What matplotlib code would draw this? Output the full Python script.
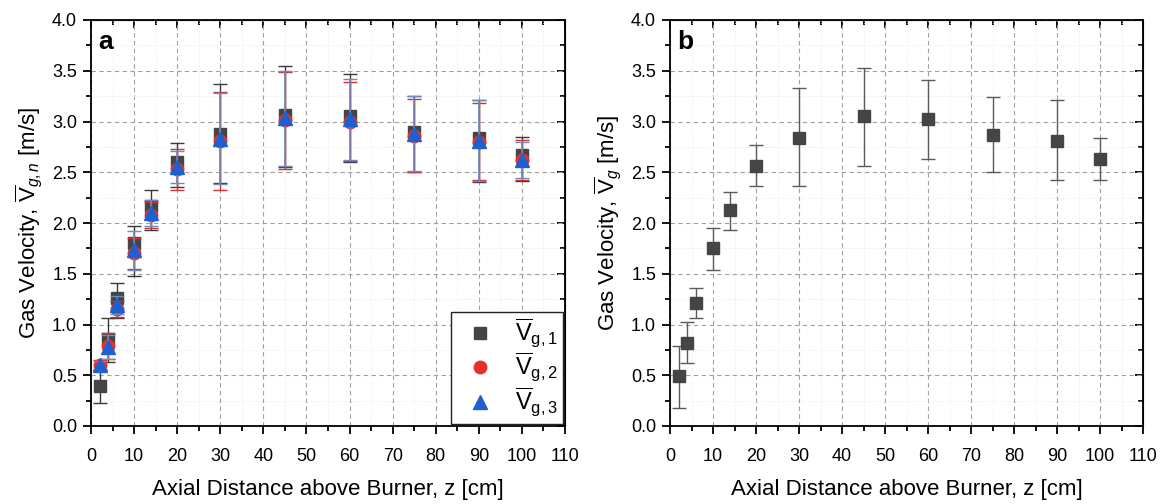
import matplotlib.pyplot as plt
from matplotlib.ticker import MultipleLocator
from matplotlib.lines import Line2D

plt.rcParams['font.family'] = ['Liberation Sans', 'DejaVu Sans']
plt.rcParams['mathtext.fontset'] = 'custom'
plt.rcParams['mathtext.rm'] = 'Liberation Sans'
plt.rcParams['mathtext.it'] = 'Liberation Sans:italic'

# axial positions [cm]
z = [2, 4, 6, 10, 14, 20, 30, 45, 60, 75, 90, 100]

# panel a: three repeated runs
v1 = [0.39, 0.86, 1.26, 1.80, 2.17, 2.60, 2.88, 3.06, 3.05, 2.90, 2.84, 2.67]
v1_lo = [0.16, 0.23, 0.20, 0.32, 0.24, 0.25, 0.49, 0.51, 0.45, 0.40, 0.44, 0.26]
v1_hi = [0.16, 0.20, 0.15, 0.17, 0.16, 0.19, 0.49, 0.49, 0.42, 0.35, 0.37, 0.18]
v2 = [0.60, 0.79, 1.15, 1.70, 2.08, 2.53, 2.81, 3.01, 3.00, 2.86, 2.80, 2.62]
v2_err = [0.05, 0.13, 0.08, 0.15, 0.13, 0.20, 0.48, 0.48, 0.39, 0.36, 0.38, 0.20]
v3 = [0.60, 0.78, 1.19, 1.73, 2.10, 2.55, 2.83, 3.03, 3.02, 2.88, 2.81, 2.62]
v3_err = [0.04, 0.12, 0.09, 0.19, 0.13, 0.16, 0.45, 0.47, 0.40, 0.37, 0.40, 0.18]
labels_a = [r'$\overline{\mathrm{V}}_{\mathrm{g,1}}$',
            r'$\overline{\mathrm{V}}_{\mathrm{g,2}}$',
            r'$\overline{\mathrm{V}}_{\mathrm{g,3}}$']

# panel b: averaged velocity
vb = [0.49, 0.82, 1.21, 1.75, 2.13, 2.56, 2.84, 3.05, 3.02, 2.87, 2.81, 2.63]
vb_lo = [0.31, 0.20, 0.15, 0.21, 0.20, 0.20, 0.48, 0.49, 0.39, 0.37, 0.39, 0.21]
vb_hi = [0.30, 0.20, 0.15, 0.20, 0.18, 0.21, 0.49, 0.48, 0.39, 0.37, 0.40, 0.21]

fig = plt.figure(figsize=(11.66, 5.04), dpi=100)
ax_a = fig.add_axes([91 / 1166, 78 / 504, 474 / 1166, 406 / 504])
ax_b = fig.add_axes([670 / 1166, 78 / 504, 473 / 1166, 406 / 504])


def style_axes(ax, ylabel, tag):
    ax.set_xlim(0, 110)
    ax.set_ylim(0, 4.0)
    ax.xaxis.set_major_locator(MultipleLocator(10))
    ax.xaxis.set_minor_locator(MultipleLocator(5))
    ax.yaxis.set_major_locator(MultipleLocator(0.5))
    ax.yaxis.set_minor_locator(MultipleLocator(0.25))
    ax.grid(True, which='major', color='#a0a0a0', linestyle=(0, (4, 3)), linewidth=0.8)
    ax.grid(True, which='minor', color='#e2e2e2', linestyle=(0, (1, 2)), linewidth=0.6)
    ax.set_axisbelow(True)
    ax.tick_params(which='both', direction='out', labelsize=13, width=1.3,
                   top=False, right=False)
    ax.tick_params(axis='x', which='major', length=6, pad=10)
    ax.tick_params(axis='y', which='major', length=6, pad=4)
    ax.tick_params(which='minor', length=3.5)
    for s in ax.spines.values():
        s.set_linewidth(1.3)
    # mirrored inward ticks on top and right
    ax2 = ax.secondary_xaxis('top')
    ax2.xaxis.set_major_locator(MultipleLocator(10))
    ax2.xaxis.set_minor_locator(MultipleLocator(5))
    ax2.tick_params(which='both', direction='in', labeltop=False, width=1.3)
    ax2.tick_params(which='major', length=6)
    ax2.tick_params(which='minor', length=3.5)
    ay2 = ax.secondary_yaxis('right')
    ay2.yaxis.set_major_locator(MultipleLocator(0.5))
    ay2.yaxis.set_minor_locator(MultipleLocator(0.25))
    ay2.tick_params(which='both', direction='in', labelright=False, width=1.3)
    ay2.tick_params(which='major', length=6)
    ay2.tick_params(which='minor', length=3.5)
    ax.set_xlabel('Axial Distance above Burner, z [cm]', fontsize=16, labelpad=10)
    ax.set_ylabel(ylabel, fontsize=16, labelpad=6)
    ax.yaxis.set_major_formatter(plt.FuncFormatter(lambda v, p: f'{v:.1f}'))
    ax.text(0.015, 0.975, tag, transform=ax.transAxes, fontsize=19,
            fontweight='bold', va='top', ha='left')


# panel a
ax_a.errorbar(z, v1, yerr=[v1_lo, v1_hi], fmt='s', color='#454545', ms=9,
              ecolor='#3a3a3a', elinewidth=1.0, capsize=5, capthick=1.0, zorder=3)
ax_a.errorbar(z, v2, yerr=v2_err, fmt='o', color='#e8302a', ms=9,
              ecolor='#d83030', elinewidth=1.0, capsize=5, capthick=1.0, zorder=4)
ax_a.errorbar(z, v3, yerr=v3_err, fmt='^', color='#1f60d0', ms=10,
              ecolor='#6a8cbf', elinewidth=1.2, capsize=5, capthick=1.0, zorder=5)
style_axes(ax_a, r'Gas Velocity, $\overline{\mathrm{V}}_{g,n}$ [m/s]', 'a')
handles = [Line2D([], [], ls='none', marker='s', ms=8, color='#454545'),
           Line2D([], [], ls='none', marker='o', ms=9, color='#e8302a'),
           Line2D([], [], ls='none', marker='^', ms=10, color='#1f60d0')]
leg = ax_a.legend(handles, labels_a, loc='lower right', fontsize=17, frameon=True,
                  fancybox=False, edgecolor='#222222', borderaxespad=0.1,
                  handletextpad=0.5, labelspacing=0.05, borderpad=0.2,
                  handlelength=2.0, framealpha=1)
leg.get_frame().set_linewidth(1.0)

# panel b
ax_b.errorbar(z, vb, yerr=[vb_lo, vb_hi], fmt='s', color='#454545', ms=9,
              ecolor='#5a5a5a', elinewidth=1.0, capsize=5, capthick=1.0, zorder=3)
style_axes(ax_b, r'Gas Velocity, $\overline{\mathrm{V}}_{g}$ [m/s]', 'b')

fig.savefig('out.png', dpi=100)
